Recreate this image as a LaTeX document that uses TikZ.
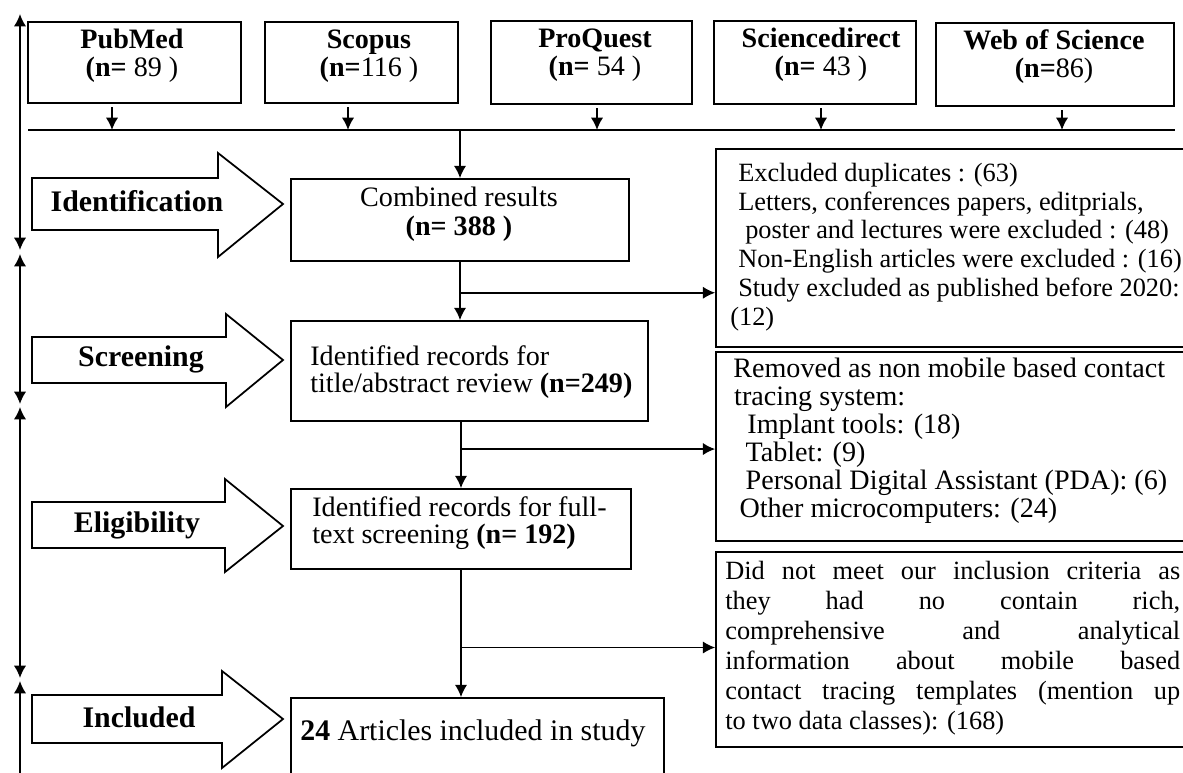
\documentclass[tikz,border=0pt]{standalone}
\usepackage{fontspec}
\setmainfont{Liberation Serif}
\usetikzlibrary{arrows.meta,calc}

\tikzset{
  box/.style={draw, rectangle, line width=1pt, inner sep=0pt},
  flow/.style={-{Latex[length=7pt,width=7pt]}, line width=1pt},
  stage/.style={{Latex[length=7pt,width=7pt]}-{Latex[length=7pt,width=7pt]}, line width=1pt},
  phase/.style={draw, line width=1pt},
  srctxt/.style={align=center, font=\fontsize{16}{16}\selectfont\bfseries},
  phasetxt/.style={font=\fontsize{17}{20}\selectfont\bfseries},
  steptxt/.style={align=left, inner sep=0pt, font=\fontsize{16}{15.5}\selectfont},
  extxt/.style={align=left, inner sep=0pt},
}

\begin{document}
\begin{tikzpicture}[x=0.02cm, y=-0.02cm]
\useasboundingbox (0,0) rectangle (1183,772);
\clip (0,0) rectangle (1183,772);

% Databases
\node[box, minimum width=4.26cm, minimum height=1.62cm] (pubmed) at (134.5,62.5) {};
\node[srctxt] (pubmedtxt) at (132,56) {PubMed\\(n= \textmd{89 )}};
\node[box, minimum width=3.86cm, minimum height=1.62cm] (scopus) at (361.5,62.5) {};
\node[srctxt] (scopustxt) at (369,56) {Scopus\\(n=\textmd{116 )}};
\node[box, minimum width=4.02cm, minimum height=1.66cm] (proquest) at (591.5,62.5) {};
\node[srctxt] (proquesttxt) at (595,55) {ProQuest\\(n= \textmd{54 )}};
\node[box, minimum width=4.04cm, minimum height=1.66cm] (scidir) at (815,62.5) {};
\node[srctxt] (scidirtxt) at (821,55) {Sciencedirect\\(n= \textmd{43 )}};
\node[box, minimum width=4.76cm, minimum height=1.66cm] (wos) at (1055,64.5) {};
\node[srctxt] (wostxt) at (1054,57) {Web of Science\\(n=\textmd{86)}};

% Merge line
\coordinate (barL) at (28,130);
\coordinate (barR) at (1175,130);
\draw[line width=1pt] (barL) -- (barR);
\draw[flow] ([xshift=-0.45cm,yshift=-2pt]pubmed.south) coordinate (a1) -- (a1 |- barL);
\draw[flow] ([xshift=-0.27cm,yshift=-2pt]scopus.south) coordinate (a2) -- (a2 |- barL);
\draw[flow] ([xshift=0.11cm,yshift=-2pt]proquest.south) coordinate (a3) -- (a3 |- barL);
\draw[flow] ([xshift=0.12cm,yshift=-2pt]scidir.south) coordinate (a4) -- (a4 |- barL);
\draw[flow] ([xshift=0.14cm,yshift=-2pt]wos.south) coordinate (a5) -- (a5 |- barL);

% Stage arrows
\draw[phase] (32,178) -- (218,178) -- (218,153) -- (283,204) -- (218,257) -- (218,230) -- (32,230) -- cycle;
\node[phasetxt] (identlab) at (137,201) {Identification};
\draw[phase] (32,337) -- (226,337) -- (226,314) -- (283,360) -- (226,407) -- (226,383) -- (32,383) -- cycle;
\node[phasetxt] (screenlab) at (141,359) {Screening};
\draw[phase] (32,502) -- (225,502) -- (225,479) -- (283,526) -- (225,572) -- (225,548) -- (32,548) -- cycle;
\node[phasetxt] (eliglab) at (137,525) {Eligibility};
\draw[phase] (32,695) -- (222,695) -- (222,671) -- (283,719) -- (222,768) -- (222,743) -- (32,743) -- cycle;
\node[phasetxt] (incllab) at (139,717) {Included};

% Time line
\coordinate (t0) at (20,14);
\coordinate (t1) at (20,250);
\coordinate (t2) at (20,254);
\coordinate (t3) at (20,404);
\coordinate (t4) at (20,407);
\coordinate (t5) at (20,678);
\coordinate (t6) at (20,681);
\coordinate (t7) at (20,790);
\draw[stage] (t0) -- (t1);
\draw[stage] (t2) -- (t3);
\draw[stage] (t4) -- (t5);
\draw[stage] (t6) -- (t7);

% Main flow
\node[box, minimum width=6.76cm, minimum height=1.64cm] (comb) at (460,220) {};
\node[align=center, font=\fontsize{16}{16.5}\selectfont] (combtxt) at (459,214) {Combined results\\\textbf{(n= 388 )}};
\node[box, minimum width=7.14cm, minimum height=2cm] (ident) at (469.5,371) {};
\node[steptxt, anchor=west] (identtxt) at (310,372) {Identified records for\\title/abstract review \textbf{(n=249)}};
\node[box, minimum width=6.8cm, minimum height=1.6cm] (full) at (461,529) {};
\node[steptxt, anchor=west] (fulltxt) at (312,523) {Identified records for full-\\text screening \textbf{(n= 192)}};
\node[box, minimum width=7.46cm, minimum height=2cm] (incl) at (477.5,748) {};
\node[steptxt, anchor=west, font=\fontsize{17}{17}\selectfont] (incltxt) at (300,733) {\textbf{24} Articles included in study};

\draw[flow] (comb.north |- barL) -- (comb.north);
\draw[flow] (comb.south) -- (comb.south |- ident.north);
\draw[flow] (full.north |- ident.south) -- (full.north);
\draw[flow] (full.south) -- (full.south |- incl.north);

% Exclusions
\node[box, minimum width=9.48cm, minimum height=3.96cm] (ex1) at (953,248) {};
\node[extxt, anchor=west, font=\fontsize{15}{16.4}\selectfont] (ex1txt) at (730,247) {%
\hspace*{4.5pt}Excluded duplicates : (63)\\
\hspace*{4.5pt}Letters, conferences papers, editprials,\\
\hspace*{8.5pt}poster and lectures were excluded : (48)\\
\hspace*{4.5pt}Non-English articles were excluded : (16)\\
\hspace*{4.5pt}Study excluded as published before 2020:\\
(12)};
\node[box, minimum width=9.48cm, minimum height=3.78cm] (ex2) at (953,446.5) {};
\node[extxt, anchor=west, font=\fontsize{16}{15.9}\selectfont] (ex2txt) at (733,441) {%
Removed as non mobile based contact\\
\hspace*{0.5pt}tracing system:\\
\hspace*{8pt}Implant tools: (18)\\
\hspace*{7pt}Tablet: (9)\\
\hspace*{7pt}Personal Digital Assistant (PDA): (6)\\
\hspace*{3.5pt}Other microcomputers: (24)};
\node[box, minimum width=9.48cm, minimum height=3.9cm] (ex3) at (953,649.5) {};
\node[extxt, anchor=west, font=\fontsize{15}{17}\selectfont] (ex3txt) at (725,648) {%
\makebox[9.1cm][s]{Did not meet our inclusion criteria as}\\
\makebox[9.1cm][s]{they had no contain rich,}\\
\makebox[9.1cm][s]{comprehensive and analytical}\\
\makebox[9.1cm][s]{information about mobile based}\\
\makebox[9.1cm][s]{contact tracing templates (mention up}\\
to two data classes): (168)};

\coordinate (br1) at ($(comb.south)!0.53!(comb.south |- ident.north)$);
\coordinate (br2) at ($(full.north |- ident.south)!0.41!(full.north)$);
\coordinate (br3) at ($(full.south)!0.61!(full.south |- incl.north)$);
\draw[flow] (br1) -- (br1 -| ex1.west);
\draw[flow] (br2) -- (br2 -| ex2.west);
\draw[flow] (br3) -- (br3 -| ex3.west);
\end{tikzpicture}
\end{document}
